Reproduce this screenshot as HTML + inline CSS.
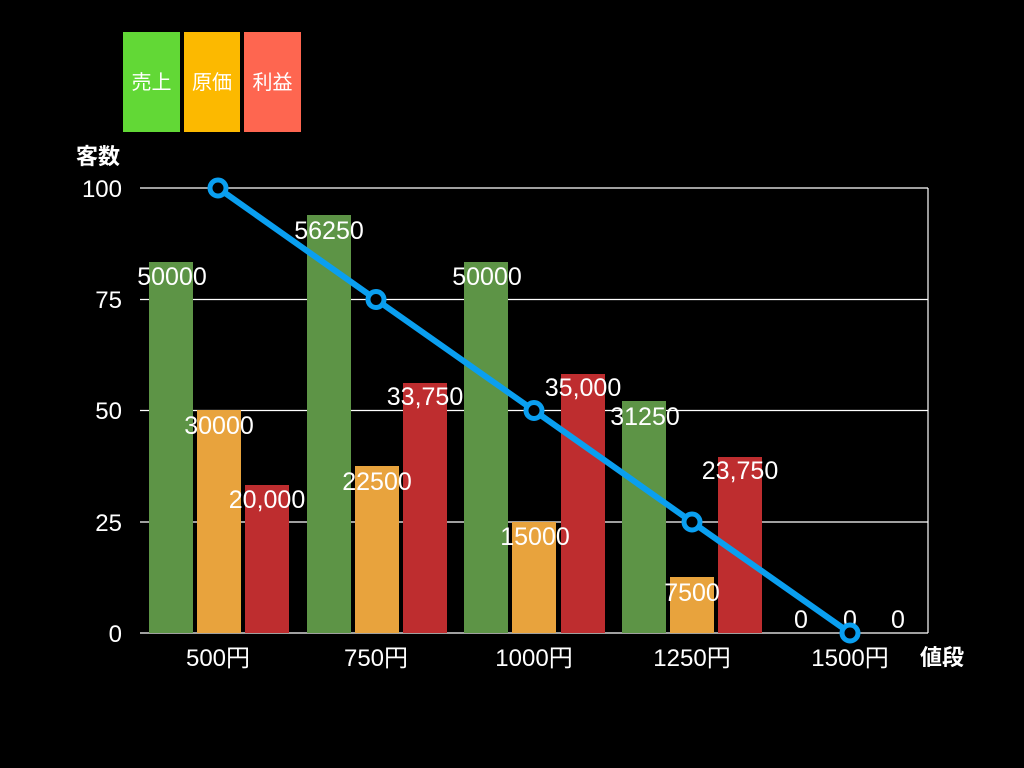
<!DOCTYPE html>
<html><head><meta charset="utf-8"><style>
html,body{margin:0;padding:0;background:#000;width:1024px;height:768px;overflow:hidden}
text{font-family:"Liberation Sans","Noto Sans CJK JP",sans-serif;fill:#fff}
</style></head><body>
<svg width="1024" height="768" viewBox="0 0 1024 768" xmlns="http://www.w3.org/2000/svg">
<rect width="1024" height="768" fill="#000"/>
<rect x="123" y="32" width="57" height="100" fill="#62d836"/>
<rect x="184" y="32" width="56" height="100" fill="#fcb900"/>
<rect x="244" y="32" width="57" height="100" fill="#fe6650"/>
<text x="151.5" y="89" font-size="20" text-anchor="middle">売上</text>
<text x="212" y="89" font-size="20" text-anchor="middle">原価</text>
<text x="272.5" y="89" font-size="20" text-anchor="middle">利益</text>
<g stroke="#fff" stroke-width="1.2">
<line x1="140" y1="188" x2="928" y2="188"/>
<line x1="140" y1="299.5" x2="928" y2="299.5"/>
<line x1="140" y1="410.5" x2="928" y2="410.5"/>
<line x1="140" y1="522" x2="928" y2="522"/>
<line x1="140" y1="633" x2="928" y2="633"/>
<line x1="928" y1="188" x2="928" y2="633"/>
</g>
<g fill="#5d9446">
<rect x="149" y="262" width="44" height="371"/>
<rect x="307" y="215" width="44" height="418"/>
<rect x="464" y="262" width="44" height="371"/>
<rect x="622" y="401" width="44" height="232"/>
</g>
<g fill="#e8a33d">
<rect x="197" y="410" width="44" height="223"/>
<rect x="355" y="466" width="44" height="167"/>
<rect x="512" y="522" width="44" height="111"/>
<rect x="670" y="577" width="44" height="56"/>
</g>
<g fill="#be2d2f">
<rect x="245" y="485" width="44" height="148"/>
<rect x="403" y="383" width="44" height="250"/>
<rect x="561" y="374" width="44" height="259"/>
<rect x="718" y="457" width="44" height="176"/>
</g>
<g font-size="25" text-anchor="middle">
<text x="172" y="285">50000</text>
<text x="329" y="239">56250</text>
<text x="487" y="285">50000</text>
<text x="645" y="425">31250</text>
<text x="219" y="434">30000</text>
<text x="377" y="490">22500</text>
<text x="535" y="545">15000</text>
<text x="692" y="601">7500</text>
<text x="267" y="508">20,000</text>
<text x="425" y="405">33,750</text>
<text x="583" y="396">35,000</text>
<text x="740" y="479">23,750</text>
<text x="801" y="628">0</text>
<text x="850" y="628">0</text>
<text x="898" y="628">0</text>
</g>
<polyline points="218,188 376,299.5 534,410.5 692,522 850,633" fill="none" stroke="#0a9ff0" stroke-width="6"/>
<g fill="#000" stroke="#0a9ff0" stroke-width="5">
<circle cx="218" cy="188" r="8"/>
<circle cx="376" cy="299.5" r="8"/>
<circle cx="534" cy="410.5" r="8"/>
<circle cx="692" cy="522" r="8"/>
<circle cx="850" cy="633" r="8"/>
</g>
<g font-size="24" text-anchor="end">
<text x="122" y="197">100</text>
<text x="122" y="308">75</text>
<text x="122" y="419">50</text>
<text x="122" y="531">25</text>
<text x="122" y="642">0</text>
</g>
<g font-size="24" text-anchor="middle">
<text x="218" y="666">500円</text>
<text x="376" y="666">750円</text>
<text x="534" y="666">1000円</text>
<text x="692" y="666">1250円</text>
<text x="850" y="666">1500円</text>
</g>
<text x="76" y="164" font-size="22" font-weight="bold">客数</text>
<text x="920" y="665" font-size="22" font-weight="bold">値段</text>
</svg>
</body></html>
